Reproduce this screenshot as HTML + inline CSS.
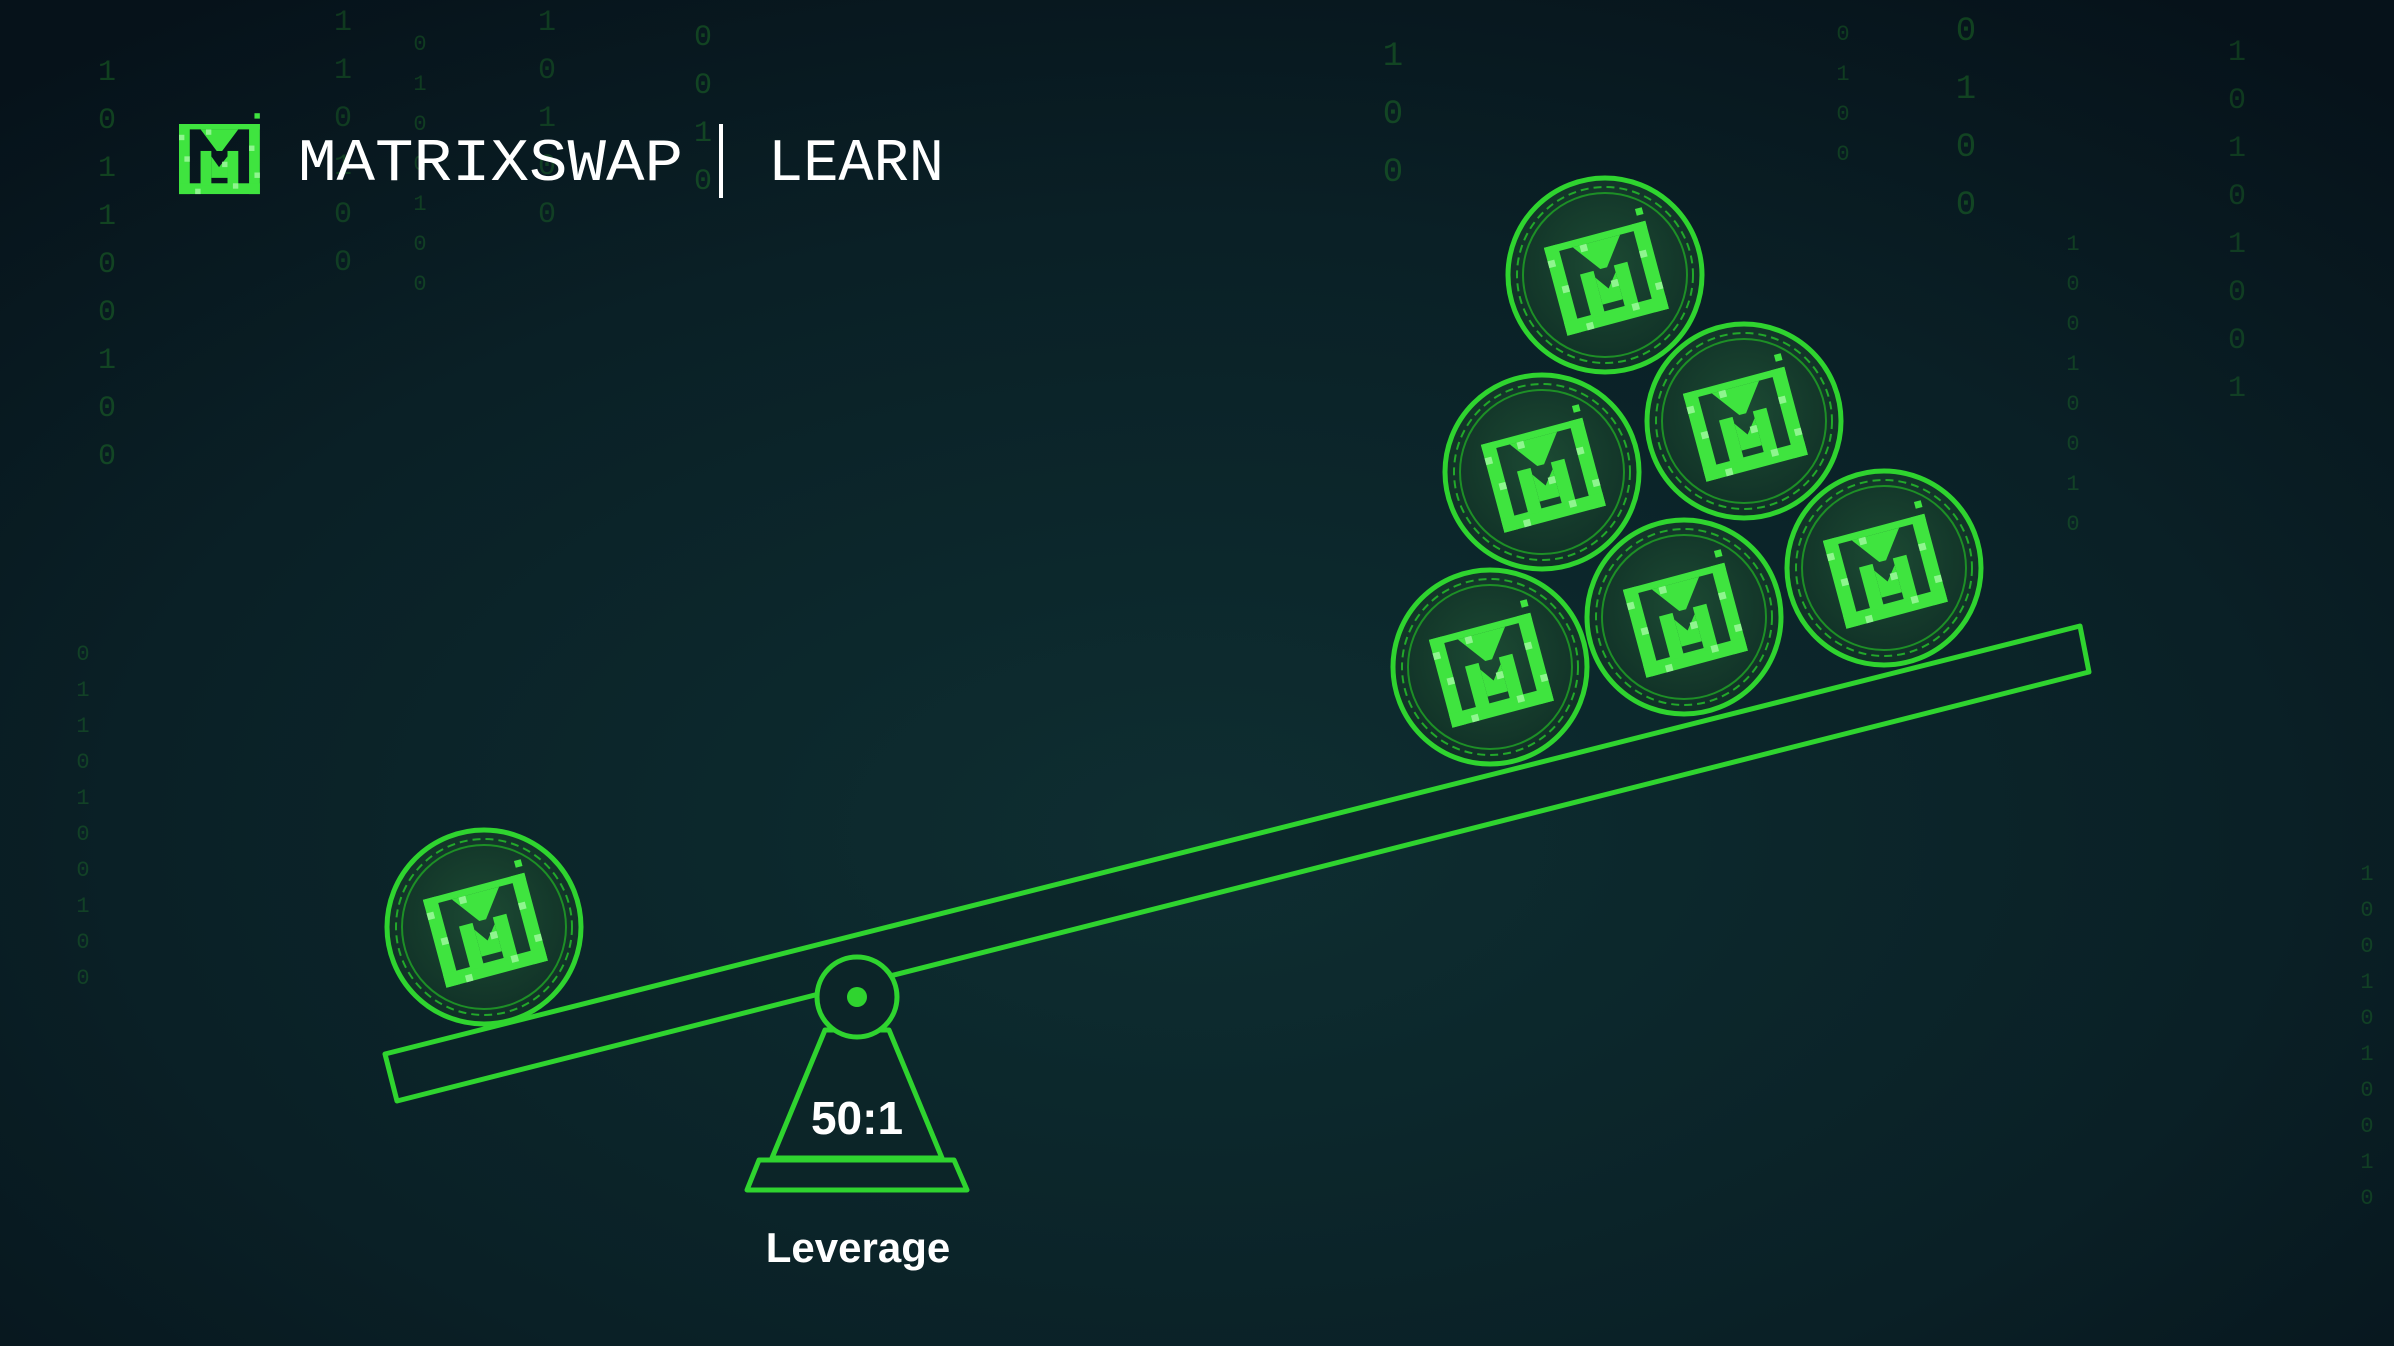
<!DOCTYPE html>
<html><head><meta charset="utf-8"><style>
html,body{margin:0;padding:0;background:#081519;}
svg{display:block}
</style></head><body>
<svg width="2394" height="1346" viewBox="0 0 2394 1346" xmlns="http://www.w3.org/2000/svg">
<defs>
<radialGradient id="bg" cx="0.5" cy="0.62" r="0.75">
<stop offset="0" stop-color="#0e2e31"/><stop offset="0.6" stop-color="#0a2026"/><stop offset="1" stop-color="#06121a"/>
</radialGradient>
<radialGradient id="cf" cx="0.5" cy="0.45" r="0.6">
<stop offset="0" stop-color="#1c4a33"/><stop offset="1" stop-color="#0f2d25"/>
</radialGradient>
<g id="mlogo" fill="#3fe43f">
<rect x="0" y="0" width="105" height="7"/>
<rect x="0" y="0" width="14" height="91"/>
<rect x="91" y="0" width="14" height="91"/>
<rect x="0" y="77" width="105" height="14"/>
<polygon points="28,7 77,7 56,35 49,35"/>
<rect x="28" y="35" width="14" height="45"/>
<rect x="63" y="35" width="14" height="45"/>
<polygon points="42,42 52,56 63,42 63,70 42,70"/>
<rect x="98" y="-14" width="7" height="7"/>
<g fill="#8ff58f"><rect x="0" y="14" width="7" height="7"/><rect x="7" y="42" width="7" height="7"/><rect x="35" y="7" width="7" height="7"/><rect x="56" y="49" width="7" height="7"/><rect x="91" y="28" width="7" height="7"/><rect x="21" y="84" width="7" height="7"/><rect x="70" y="77" width="7" height="7"/><rect x="98" y="63" width="7" height="7"/></g>
</g>
<g id="coin">
<circle r="97" fill="url(#cf)" stroke="#2fd42f" stroke-width="5"/>
<circle r="88" fill="none" stroke="#22a82a" stroke-width="2" stroke-dasharray="8 5"/>
<circle r="82" fill="none" stroke="#1d8f26" stroke-width="2"/>
<g transform="rotate(-15) translate(-52,-42)"><use href="#mlogo"/></g>
</g>
</defs>
<rect width="2394" height="1346" fill="url(#bg)"/>
<g font-family="Liberation Mono, monospace" fill="#2aa82a" text-anchor="middle">
<text x="107" y="80" font-size="30" opacity="0.3"><tspan x="107" dy="0">1</tspan><tspan x="107" dy="48">0</tspan><tspan x="107" dy="48">1</tspan><tspan x="107" dy="48">1</tspan><tspan x="107" dy="48">0</tspan><tspan x="107" dy="48">0</tspan><tspan x="107" dy="48">1</tspan><tspan x="107" dy="48">0</tspan><tspan x="107" dy="48">0</tspan></text>
<text x="343" y="30" font-size="30" opacity="0.25"><tspan x="343" dy="0">1</tspan><tspan x="343" dy="48">1</tspan><tspan x="343" dy="48">0</tspan><tspan x="343" dy="48">1</tspan><tspan x="343" dy="48">0</tspan><tspan x="343" dy="48">0</tspan></text>
<text x="420" y="50" font-size="22" opacity="0.25"><tspan x="420" dy="0">0</tspan><tspan x="420" dy="40">1</tspan><tspan x="420" dy="40">0</tspan><tspan x="420" dy="40">0</tspan><tspan x="420" dy="40">1</tspan><tspan x="420" dy="40">0</tspan><tspan x="420" dy="40">0</tspan></text>
<text x="547" y="30" font-size="30" opacity="0.25"><tspan x="547" dy="0">1</tspan><tspan x="547" dy="48">0</tspan><tspan x="547" dy="48">1</tspan><tspan x="547" dy="48">0</tspan><tspan x="547" dy="48">0</tspan></text>
<text x="703" y="45" font-size="30" opacity="0.3"><tspan x="703" dy="0">0</tspan><tspan x="703" dy="48">0</tspan><tspan x="703" dy="48">1</tspan><tspan x="703" dy="48">0</tspan></text>
<text x="1393" y="65" font-size="34" opacity="0.3"><tspan x="1393" dy="0">1</tspan><tspan x="1393" dy="58">0</tspan><tspan x="1393" dy="58">0</tspan></text>
<text x="1843" y="40" font-size="22" opacity="0.25"><tspan x="1843" dy="0">0</tspan><tspan x="1843" dy="40">1</tspan><tspan x="1843" dy="40">0</tspan><tspan x="1843" dy="40">0</tspan></text>
<text x="1966" y="40" font-size="34" opacity="0.3"><tspan x="1966" dy="0">0</tspan><tspan x="1966" dy="58">1</tspan><tspan x="1966" dy="58">0</tspan><tspan x="1966" dy="58">0</tspan></text>
<text x="2073" y="250" font-size="22" opacity="0.25"><tspan x="2073" dy="0">1</tspan><tspan x="2073" dy="40">0</tspan><tspan x="2073" dy="40">0</tspan><tspan x="2073" dy="40">1</tspan><tspan x="2073" dy="40">0</tspan><tspan x="2073" dy="40">0</tspan><tspan x="2073" dy="40">1</tspan><tspan x="2073" dy="40">0</tspan></text>
<text x="2237" y="60" font-size="30" opacity="0.25"><tspan x="2237" dy="0">1</tspan><tspan x="2237" dy="48">0</tspan><tspan x="2237" dy="48">1</tspan><tspan x="2237" dy="48">0</tspan><tspan x="2237" dy="48">1</tspan><tspan x="2237" dy="48">0</tspan><tspan x="2237" dy="48">0</tspan><tspan x="2237" dy="48">1</tspan></text>
<text x="83" y="660" font-size="22" opacity="0.25"><tspan x="83" dy="0">0</tspan><tspan x="83" dy="36">1</tspan><tspan x="83" dy="36">1</tspan><tspan x="83" dy="36">0</tspan><tspan x="83" dy="36">1</tspan><tspan x="83" dy="36">0</tspan><tspan x="83" dy="36">0</tspan><tspan x="83" dy="36">1</tspan><tspan x="83" dy="36">0</tspan><tspan x="83" dy="36">0</tspan></text>
<text x="2367" y="880" font-size="22" opacity="0.25"><tspan x="2367" dy="0">1</tspan><tspan x="2367" dy="36">0</tspan><tspan x="2367" dy="36">0</tspan><tspan x="2367" dy="36">1</tspan><tspan x="2367" dy="36">0</tspan><tspan x="2367" dy="36">1</tspan><tspan x="2367" dy="36">0</tspan><tspan x="2367" dy="36">0</tspan><tspan x="2367" dy="36">1</tspan><tspan x="2367" dy="36">0</tspan></text>
</g>
<!-- logo -->
<g transform="translate(179,124) scale(0.77)"><use href="#mlogo"/></g>
<g font-family="Liberation Mono, monospace" fill="#ffffff" font-size="60">
<text x="298" y="180" textLength="385" lengthAdjust="spacingAndGlyphs">MATRIXSWAP</text>
<text x="768" y="180" textLength="176" lengthAdjust="spacingAndGlyphs">LEARN</text>
</g>
<rect x="719" y="124" width="4" height="74" fill="#ffffff"/>
<!-- beam -->
<polygon points="385,1054 2080,626 2089,672 397,1101" fill="#0c2528" fill-opacity="0.6" stroke="#2fd42f" stroke-width="5" stroke-linejoin="round"/>
<!-- fulcrum -->
<polygon points="825,1030 889,1030 942,1158 772,1158" fill="#0c2528" stroke="#2fd42f" stroke-width="5" stroke-linejoin="round"/>
<polygon points="759,1160 954,1160 967,1190 747,1190" fill="#0c2528" stroke="#2fd42f" stroke-width="5" stroke-linejoin="round"/>
<circle cx="857" cy="997" r="40" fill="#0c2528" stroke="#2fd42f" stroke-width="5"/>
<circle cx="857" cy="997" r="10" fill="#2fd42f"/>
<g font-family="Liberation Sans, sans-serif" font-weight="bold" fill="#ffffff" text-anchor="middle">
<text x="857" y="1134" font-size="46">50:1</text>
<text x="858" y="1262" font-size="42">Leverage</text>
</g>
<!-- coins -->
<use href="#coin" x="484" y="927"/>
<use href="#coin" x="1605" y="275"/>
<use href="#coin" x="1542" y="472"/>
<use href="#coin" x="1744" y="421"/>
<use href="#coin" x="1490" y="667"/>
<use href="#coin" x="1684" y="617"/>
<use href="#coin" x="1884" y="568"/>
</svg>
</body></html>
